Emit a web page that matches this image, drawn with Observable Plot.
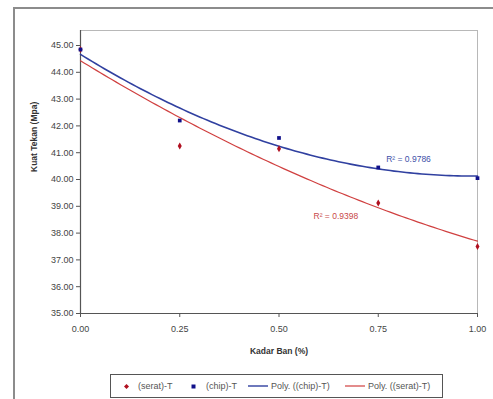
<!DOCTYPE html>
<html>
<head>
<meta charset="utf-8">
<script src="https://cdn.jsdelivr.net/npm/d3@7"></script>
<script src="https://cdn.jsdelivr.net/npm/@observablehq/plot@0.6"></script>
<style>
  html, body { margin: 0; padding: 0; background: #fff; }
  #wrap { position: relative; width: 493px; height: 399px; overflow: hidden; font-family: "Liberation Sans", Arial, sans-serif; }
  #border { position: absolute; left: 13px; top: 7px; width: 500px; height: 420px; border: 2px solid #8c8c8c; box-sizing: border-box; }
  #chart { position: absolute; left: 0; top: 0; }
  #legend { position: absolute; left: 110px; top: 374px; width: 333px; height: 24px; border: 1px solid #555; box-sizing: border-box; background: #fff;
            font-size: 9px; color: #555; white-space: nowrap; }
  #legend span.item { position: absolute; top: 0; height: 22px; display: inline-flex; align-items: center; gap: 3px; }
</style>
</head>
<body>
<div id="wrap">
  <div id="border"></div>
  <div id="chart"></div>
  <div id="legend"></div>
</div>
<script>
// ---- data ----
const kadarBan = [0, 0.25, 0.5, 0.75, 1.0];
const seratT = [44.85, 41.25, 41.15, 39.12, 37.5];
const chipT = [44.85, 42.2, 41.55, 40.45, 40.05];
const yTicks = [35, 36, 37, 38, 39, 40, 41, 42, 43, 44, 45];
const xTicks = [0, 0.25, 0.5, 0.75, 1.0];
const seriesNames = ["(serat)-T", "(chip)-T", "Poly. ((chip)-T)", "Poly. ((serat)-T)"];
const r2Labels = ["R\u00B2 = 0.9786", "R\u00B2 = 0.9398"];

const blueDot = "#10108a", redDot = "#b01020", blueLine = "#3040a0", redLine = "#d04040";

// quadratic least-squares trend (as Excel's Poly. order 2 trendline)
function quadFit(xs, ys) {
  const n = xs.length;
  let s = [0,0,0,0,0], t = [0,0,0];
  for (let i = 0; i < n; i++) {
    const x = xs[i], y = ys[i];
    for (let k = 0; k <= 4; k++) s[k] += Math.pow(x, k);
    for (let k = 0; k <= 2; k++) t[k] += Math.pow(x, k) * y;
  }
  const A = [[s[0], s[1], s[2], t[0]], [s[1], s[2], s[3], t[1]], [s[2], s[3], s[4], t[2]]];
  for (let i = 0; i < 3; i++) {
    for (let j = i + 1; j < 3; j++) {
      const f = A[j][i] / A[i][i];
      for (let k = i; k < 4; k++) A[j][k] -= f * A[i][k];
    }
  }
  const c = [0,0,0];
  for (let i = 2; i >= 0; i--) {
    let v = A[i][3];
    for (let k = i + 1; k < 3; k++) v -= A[i][k] * c[k];
    c[i] = v / A[i][i];
  }
  return x => c[0] + c[1] * x + c[2] * x * x;
}

const fChip = quadFit(kadarBan, chipT);
const fSerat = quadFit(kadarBan, seratT);
const xs = d3.range(0, 1.0001, 0.01);
const chipCurve = xs.map(x => ({x, y: fChip(x)}));
const seratCurve = xs.map(x => ({x, y: fSerat(x)}));
const seratPts = kadarBan.map((x, i) => ({x, y: seratT[i]}));
const chipPts = kadarBan.map((x, i) => ({x, y: chipT[i]}));

const chart = Plot.plot({
  width: 493,
  height: 399,
  marginLeft: 80,
  marginRight: 16,
  marginTop: 30,
  marginBottom: 86,
  style: { fontFamily: "'Liberation Sans', Arial, sans-serif", fontSize: "9px", color: "#444", background: "transparent" },
  x: { domain: [0, 1], ticks: xTicks },
  y: { domain: [35, 45.56], ticks: yTicks },
  marks: [
    Plot.frame({ stroke: "#b8b8b8" }),
    Plot.ruleX([0], { stroke: "#555", strokeWidth: 1.2 }),
    Plot.ruleY([35], { stroke: "#555", strokeWidth: 1.2 }),
    Plot.axisY({ ticks: yTicks, tickFormat: d => d.toFixed(2), tickSize: 4, tickPadding: 3, label: null, stroke: "#555" }),
    Plot.axisX({ ticks: xTicks, tickFormat: d => d.toFixed(2), tickSize: 4, tickPadding: 8, label: null, stroke: "#555" }),
    Plot.text(["Kuat Tekan (Mpa)"], { frameAnchor: "left", dx: -46, rotate: -90, fontWeight: "bold", fontSize: 8.5, fill: "#333" }),
    Plot.text(["Kadar Ban (%)"], { frameAnchor: "bottom", dy: 40, fontWeight: "bold", fontSize: 8.5, fill: "#333" }),
    Plot.line(seratCurve, { x: "x", y: "y", stroke: redLine, strokeWidth: 1.2 }),
    Plot.line(chipCurve, { x: "x", y: "y", stroke: blueLine, strokeWidth: 1.6 }),
    Plot.dot(seratPts, { x: "x", y: "y", symbol: "diamond", r: 2.1, fill: redDot, stroke: "none" }),
    Plot.dot(chipPts, { x: "x", y: "y", symbol: "square", r: 2.1, fill: blueDot, stroke: "none" }),
    Plot.text([r2Labels[0]], { x: () => 0.77, y: () => fChip(0.77), dy: -11, textAnchor: "start", fill: "#4050a8", fontSize: 8.5 }),
    Plot.text([r2Labels[1]], { x: () => 0.587, y: () => fSerat(0.587), dy: 35, textAnchor: "start", fill: "#c84848", fontSize: 8.5 })
  ]
});
document.getElementById("chart").appendChild(chart);

// legend
const legend = document.getElementById("legend");
const sym = [
  `<svg width="5" height="5"><path d="M2.5 0 L5 2.5 L2.5 5 L0 2.5 Z" fill="${redDot}"/></svg>`,
  `<svg width="5" height="5"><rect x="0.5" y="0.5" width="4" height="4" fill="${blueDot}"/></svg>`,
  `<svg width="20" height="4"><line x1="0" y1="2" x2="20" y2="2" stroke="${blueLine}" stroke-width="1.4"/></svg>`,
  `<svg width="20" height="4"><line x1="0" y1="2" x2="20" y2="2" stroke="${redLine}" stroke-width="1.2"/></svg>`
];
const itemLeft = [13, 80, 137, 234];
const itemGap = [9, 10, 3, 3];
seriesNames.forEach((name, i) => {
  const s = document.createElement("span");
  s.className = "item";
  s.style.left = itemLeft[i] + "px";
  s.style.gap = itemGap[i] + "px";
  s.innerHTML = sym[i] + `<span>${name}</span>`;
  legend.appendChild(s);
});
</script>
</body>
</html>
